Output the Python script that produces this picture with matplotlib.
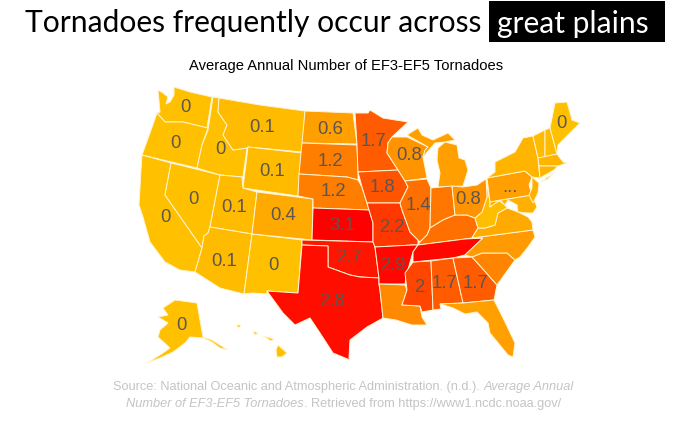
import matplotlib
matplotlib.use('Agg')
import matplotlib.pyplot as plt
from matplotlib.colors import LinearSegmentedColormap, Normalize
from matplotlib.patches import Polygon, Rectangle

# average number per year, read off the colours where no label is printed
states = ['WA','OR','CA','NV','ID','MT','WY','UT','AZ','NM','CO','ND','SD','NE','KS','OK','TX',
          'MN','IA','MO','AR','LA','WI','IL','MS','MI','MI2','IN','KY','TN','AL','GA','FL','SC',
          'NC','VA','WV','OH','PA','NY','MD','NJ','VT','NH','ME','MA','CT','LI','AK','HI','HI2','HI3','HI4']
values = [0,0,0,0,0,0.1,0.1,0.1,0.1,0,0.4,0.6,1.2,1.2,3.1,2.7,2.8,
          1.7,1.8,2.2,2.9,1.0,0.8,1.4,2,0.6,0.6,1.3,1.4,2.9,1.7,1.7,0.6,1.1,
          0.7,0.4,0.05,0.8,0.6,0.2,0.3,0.3,0.1,0.1,0,0.2,0.2,0.2,0,0,0,0,0]

# label text per state
label_states = ['WA','OR','ID','MT','ND','SD','NE','WY','NV','UT','CO','CA','AZ','NM','KS','OK','TX',
                'AR','MO','IA','MN','WI','IL','OH','PA','ME','MS','AL','GA','AK']
label_text = ['0','0','0','0.1','0.6','1.2','1.2','0.1','0','0.1','0.4','0','0.1','0','3.1','2.7','2.8',
              '2.9','2.2','1.8','1.7','0.8','1.4','0.8','...','0','2','1.7','1.7','0']
label_xy = [(185,107),(175,143),(220,150),(262,127),(330,129),(330,161),(333,192),(272,172),(193,200),
            (234,207),(283,216),(165,217),(224,261),(273,266),(342,226),(349,257),(332,301),(393,265),
            (392,227),(382,188),(373,142),(409,155),(418,205),(468,199),(510,188),(561,123),(419,288),
            (444,284),(475,284),(181,326)]

# state outlines in picture pixels
outlines = {
 'WA': [(158,90),(163,93),(168,97),(166,104),(170,102),(174,95),(174,87),(190,92),(212,97),(207,128),(183,122),(165,122),(157,113),(160,112)],
 'OR': [(157,113),(165,122),(183,122),(208,128),(202,145),(197,168),(142,155),(150,133)],
 'CA': [(142,155),(171,163),(165,195),(202,248),(198,262),(195,272),(180,270),(165,262),(150,242),(143,217),(139,205),(141,170)],
 'NV': [(171,163),(220,175),(210,227),(208,233),(204,236),(202,248),(165,195)],
 'ID': [(213,97),(219,98),(218,112),(227,125),(223,135),(233,150),(247,148),(243,177),(220,175),(197,168),(202,145),(208,130)],
 'MT': [(219,98),(260,105),(305,111),(302,152),(248,147),(247,148),(233,150),(223,135),(227,125),(218,112)],
 'WY': [(248,147),(302,153),(298,196),(243,188)],
 'UT': [(220,175),(242,177),(243,188),(257,192),(252,234),(210,227)],
 'AZ': [(210,227),(252,234),(244,294),(220,288),(195,272),(198,262),(202,248),(204,236),(208,233)],
 'NM': [(252,234),(302,240),(298,293),(267,291),(267,294),(252,293),(244,294)],
 'CO': [(257,192),(313,199),(312,240),(252,234)],
 'ND': [(305,111),(353,113),(357,144),(302,143)],
 'SD': [(302,143),(357,145),(358,172),(358,180),(347,177),(299,174)],
 'NE': [(299,174),(347,177),(358,180),(362,187),(367,203),(369,210),(313,208),(313,199),(298,196)],
 'KS': [(313,208),(369,210),(373,223),(373,242),(312,240)],
 'OK': [(302,240),(373,242),(375,247),(379,278),(378,278),(360,277),(350,275),(328,267),(328,246),(302,245)],
 'TX': [(302,245),(328,246),(328,267),(350,275),(360,277),(379,278),(379,284),(380,290),(383,318),(367,327),
        (350,340),(349,358),(350,360),(333,353),(320,333),(310,318),(295,325),(283,313),(267,291),(298,293)],
 'MN': [(355,113),(368,113),(370,110),(383,118),(408,122),(392,137),(388,143),(387,153),(398,170),(358,172),(357,145)],
 'IA': [(358,172),(398,170),(405,181),(408,187),(400,203),(367,203),(362,187)],
 'MO': [(367,203),(400,203),(402,210),(410,232),(418,240),(418,245),(413,245),(375,247),(373,242),(373,223),(369,210)],
 'AR': [(375,247),(413,245),(418,245),(413,252),(407,273),(405,284),(379,284),(379,278)],
 'LA': [(379,284),(405,285),(407,290),(402,305),(420,306),(422,317),(427,325),(412,325),(396,320),(383,318),(380,290)],
 'WI': [(388,143),(392,137),(407,137),(428,147),(425,152),(423,157),(427,178),(405,181),(398,170),(387,153)],
 'IL': [(405,181),(427,179),(431,188),(430,228),(427,235),(420,242),(418,240),(410,232),(402,210),(400,203),(408,187)],
 'MS': [(413,262),(431,261),(433,310),(422,312),(420,306),(402,305),(407,290),(405,273)],
 'MI': [(438,148),(445,142),(457,145),(459,158),(465,160),(468,170),(463,186),(438,187),(440,173),(437,160)],
 'MI2': [(407,135),(418,128),(422,135),(433,140),(448,133),(455,140),(445,142),(435,143),(423,157),(425,150),(428,147)],
 'IN': [(431,188),(452,186),(455,215),(443,220),(430,228)],
 'KY': [(418,245),(420,242),(427,235),(430,228),(443,220),(455,215),(467,215),(475,218),(478,228),(472,238),(465,239)],
 'TN': [(418,245),(465,239),(483,238),(465,255),(453,258),(413,262),(413,252)],
 'AL': [(431,261),(453,258),(463,303),(440,304),(441,309),(433,310)],
 'GA': [(453,258),(472,257),(482,268),(497,285),(494,300),(463,303)],
 'FL': [(440,304),(463,303),(494,300),(505,322),(515,343),(513,357),(508,355),(490,333),(488,323),(477,312),(465,314),(453,308)],
 'SC': [(472,257),(482,253),(507,253),(515,260),(497,285),(482,268)],
 'NC': [(472,238),(533,230),(535,237),(528,247),(520,257),(515,260),(507,253),(482,253),(472,257),(465,255),(483,238)],
 'VA': [(472,238),(478,228),(485,228),(495,225),(498,213),(507,208),(518,212),(528,217),(532,222),(533,230)],
 'WV': [(490,202),(490,207),(498,200),(505,205),(507,208),(498,213),(495,225),(485,228),(478,228),(475,218),(482,212),(487,197),(486,180)],
 'OH': [(452,186),(463,187),(477,185),(486,179),(487,197),(482,212),(475,218),(467,215),(455,215)],
 'PA': [(487,178),(525,171),(532,177),(529,185),(532,195),(490,202)],
 'NY': [(487,178),(495,172),(495,162),(515,152),(523,138),(533,136),(538,158),(539,169),(540,178),(532,177),(525,171)],
 'MD': [(490,202),(532,195),(537,207),(533,213),(527,213),(518,212),(517,205),(508,200),(505,205),(500,200),(490,207)],
 'NJ': [(532,177),(539,183),(538,193),(533,203),(529,195),(532,188)],
 'VT': [(533,136),(545,130),(545,157),(538,158)],
 'NH': [(545,130),(550,128),(557,154),(545,157)],
 'ME': [(550,128),(555,103),(567,102),(572,120),(580,123),(558,145),(557,154)],
 'MA': [(538,158),(557,154),(563,162),(567,163),(558,166),(539,166)],
 'CT': [(539,166),(558,166),(554,170),(540,178)],
 'LI': [(541,182),(553,173),(548,179)],
 'AK': [(175,300),(197,303),(203,337),(212,340),(228,350),(220,348),(212,342),(203,338),(190,337),(185,343),
        (173,352),(160,358),(147,363),(160,355),(170,348),(158,337),(160,330),(168,323),(158,317),(168,315),(163,308)],
 'HI': [(277,357),(276,350),(278,345),(287,353),(282,357)],
 'HI2': [(253,331),(258,333),(255,335)],
 'HI3': [(236,325),(241,325),(239,328)],
 'HI4': [(263,336),(274,339),(271,341)],
}

cmap = LinearSegmentedColormap.from_list('tornado', [(0, '#FFC000'), (0.4, '#FF7E00'), (1, '#FF0000')])
norm = Normalize(0, 3.0)

fig = plt.figure(figsize=(6.95, 4.30), dpi=100)
ax = fig.add_axes([0, 0, 1, 1])
ax.set_xlim(0, 695)
ax.set_ylim(430, 0)
ax.axis('off')

for st, v in zip(states, values):
    ax.add_patch(Polygon(outlines[st], closed=True, facecolor=cmap(norm(v)),
                         edgecolor='#FFF4D0', linewidth=0.7))

for xy, t in zip(label_xy, label_text):
    ax.text(xy[0], xy[1], t, ha='center', va='center', fontsize=13.3,
            family='Liberation Sans', color='#5F5550')

# headline
ax.text(25, 23, 'Tornadoes frequently occur across', fontsize=21.6, family='Lato',
        color='black', va='center', ha='left')
ax.add_patch(Rectangle((489, 1), 176, 41, facecolor='black', edgecolor='none'))
ax.text(497, 24, 'great plains', fontsize=21.6, family='Lato', color='white', va='center', ha='left')
ax.text(346.5, 66, 'Average Annual Number of EF3-EF5 Tornadoes', fontsize=10.6,
        family='Liberation Sans', ha='center', va='center', color='black')

# source note, mixed upright and italic, so drawn run by run
def draw_runs(x, y, runs):
    rend = fig.canvas.get_renderer()
    for txt, style in runs:
        t = ax.text(x, y, txt, fontsize=9.2, family='Liberation Sans', style=style,
                    color='#C4C4C4', ha='left', va='center')
        box = t.get_window_extent(rend)
        x += box.width

draw_runs(113, 387, [('Source: National Oceanic and Atmospheric Administration. (n.d.). ', 'normal'),
                     ('Average Annual', 'italic')])
draw_runs(126, 404, [('Number of EF3-EF5 Tornadoes', 'italic'),
                     ('. Retrieved from https://www1.ncdc.noaa.gov/', 'normal')])

fig.savefig('out.png', dpi=100)
